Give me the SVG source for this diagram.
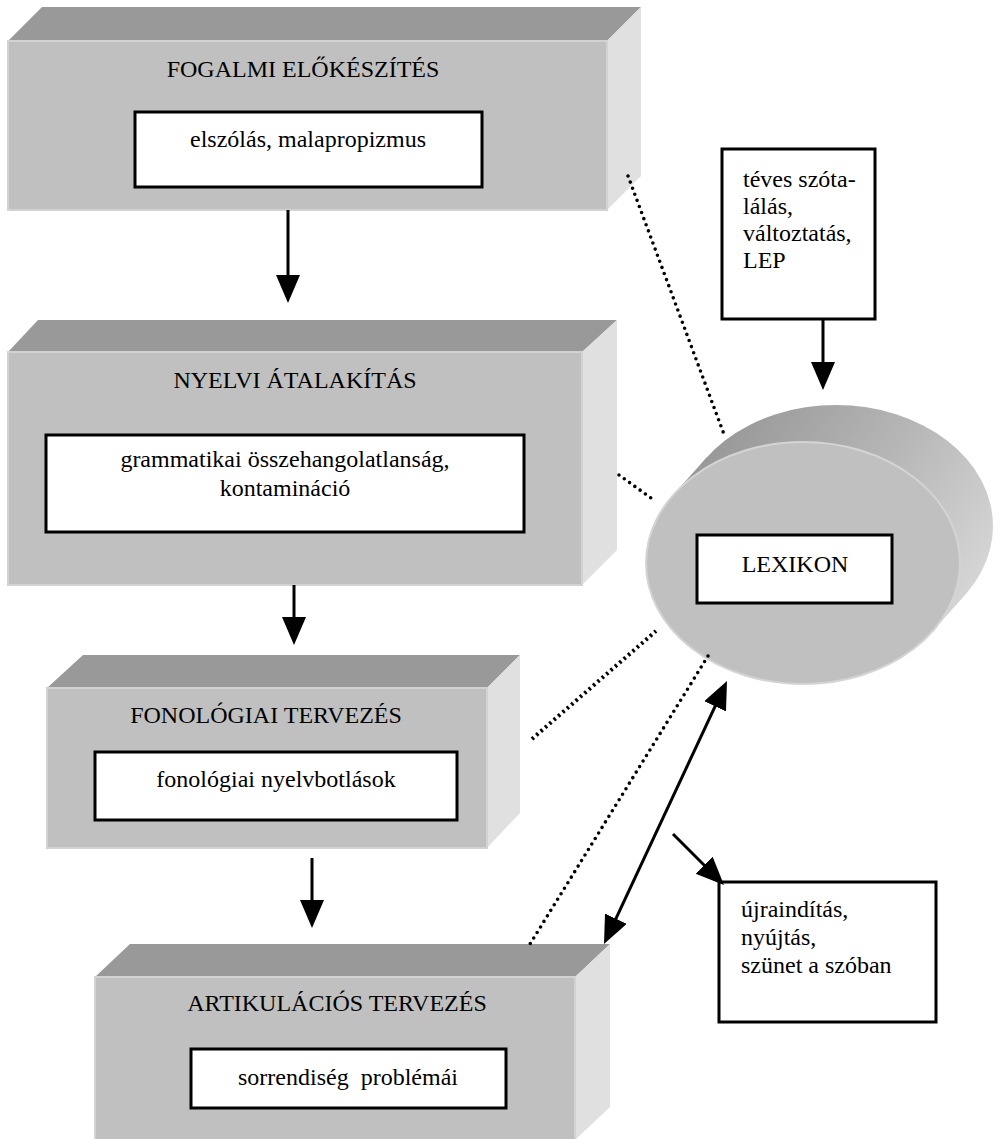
<svg xmlns="http://www.w3.org/2000/svg" width="1000" height="1139" viewBox="0 0 1000 1139">
  <style>
    .top { fill: #999999; }
    .front { fill: #c0c0c0; stroke: #d2d2d2; stroke-width: 2; }
    .side { fill: #e0e0e0; }
    .inner { fill: #ffffff; stroke: #000000; stroke-width: 3; }
    .t { font-family: "Liberation Serif", "Times New Roman", serif; font-size: 24px; fill: #000000; }
    .c { text-anchor: middle; }
    .arrow { stroke: #000000; stroke-width: 3; fill: none; }
    .dot { stroke: #000000; stroke-width: 3.6; fill: none; stroke-linecap: round; stroke-dasharray: 0 6.5; }
    .dot2 { stroke: #000000; stroke-width: 4; fill: none; stroke-dasharray: 2.4 3.4; }
  </style>
  <defs>
    <marker id="ah" markerUnits="userSpaceOnUse" markerWidth="30" markerHeight="26" refX="20" refY="12" orient="auto-start-reverse" viewBox="0 0 30 26">
      <path d="M0,0 L28,12 L0,24 z" fill="#000000"/>
    </marker>
    <linearGradient id="cylSide" gradientUnits="userSpaceOnUse" x1="700" y1="430" x2="990" y2="620">
      <stop offset="0" stop-color="#959595"/>
      <stop offset="0.5" stop-color="#b6b6b6"/>
      <stop offset="1" stop-color="#dcdcdc"/>
    </linearGradient>
  </defs>

  <g id="box-fogalmi">
    <polygon class="top" points="42,7 641,7 607,41 8,41"/>
    <polygon class="side" points="607,41 641,7 641,176 607,210"/>
    <rect class="front" x="8" y="41" width="599" height="169"/>
    <text class="t c" x="303" y="77">FOGALMI ELŐKÉSZÍTÉS</text>
    <rect class="inner" x="135" y="112" width="347" height="75"/>
    <text class="t c" x="308" y="147">elszólás, malapropizmus</text>
  </g>

  <g id="box-nyelvi">
    <polygon class="top" points="38,320 617,320 582,352 8,352"/>
    <polygon class="side" points="582,352 617,320 617,550 582,585"/>
    <rect class="front" x="8" y="352" width="574" height="233"/>
    <text class="t c" x="295" y="388">NYELVI ÁTALAKÍTÁS</text>
    <rect class="inner" x="46" y="435" width="478" height="97"/>
    <text class="t c" x="285" y="467">grammatikai összehangolatlanság,</text>
    <text class="t c" x="285" y="496">kontamináció</text>
  </g>

  <g id="box-fonologiai">
    <polygon class="top" points="83,655 520,655 487,688 47,688"/>
    <polygon class="side" points="487,688 520,655 520,813 487,848"/>
    <rect class="front" x="47" y="688" width="440" height="160"/>
    <text class="t c" x="266" y="723">FONOLÓGIAI TERVEZÉS</text>
    <rect class="inner" x="95" y="752" width="362" height="68"/>
    <text class="t c" x="276" y="787">fonológiai nyelvbotlások</text>
  </g>

  <g id="box-artikulacios">
    <polygon class="top" points="130,944 610,944 575,977 95,977"/>
    <polygon class="side" points="575,977 610,944 610,1107 575,1140"/>
    <rect class="front" x="95" y="977" width="480" height="164"/>
    <text class="t c" x="337" y="1011">ARTIKULÁCIÓS TERVEZÉS</text>
    <rect class="inner" x="191" y="1049" width="315" height="59"/>
    <text class="t c" x="348" y="1085" xml:space="preserve">sorrendiség  problémái</text>
  </g>

  <g id="lexikon">
    <ellipse cx="836" cy="526" rx="157" ry="121" fill="url(#cylSide)"/>
    <polygon points="673.6,494.5 706.6,457.5 965.4,594.5 932.4,631.5" fill="url(#cylSide)"/>
    <ellipse cx="803" cy="563" rx="157" ry="121" fill="#c0c0c0" stroke="#d4d4d4" stroke-width="2"/>
    <rect class="inner" x="697" y="535" width="195" height="68"/>
    <text class="t c" x="795" y="572">LEXIKON</text>
  </g>

  <g id="teves">
    <rect x="722" y="149" width="153" height="170" fill="#ffffff" stroke="#000000" stroke-width="3"/>
    <text class="t" x="743" y="187">téves szóta-</text>
    <text class="t" x="743" y="214">lálás,</text>
    <text class="t" x="743" y="241">változtatás,</text>
    <text class="t" x="743" y="268">LEP</text>
  </g>

  <g id="ujrainditas">
    <rect x="719" y="882" width="217" height="140" fill="#ffffff" stroke="#000000" stroke-width="3"/>
    <text class="t" x="741" y="917">újraindítás,</text>
    <text class="t" x="741" y="945">nyújtás,</text>
    <text class="t" x="741" y="973">szünet a szóban</text>
  </g>

  <g id="connectors">
    <line class="arrow" x1="288" y1="210" x2="288" y2="295" marker-end="url(#ah)"/>
    <line class="arrow" x1="294" y1="585" x2="294" y2="637" marker-end="url(#ah)"/>
    <line class="arrow" x1="312" y1="858" x2="312" y2="920" marker-end="url(#ah)"/>
    <line class="arrow" x1="823" y1="319" x2="823" y2="382" marker-end="url(#ah)"/>
    <line class="arrow" x1="673" y1="834" x2="718.3" y2="879.3" marker-end="url(#ah)"/>
    <line class="arrow" x1="723.6" y1="688.2" x2="607.4" y2="936.8" marker-start="url(#ah)" marker-end="url(#ah)"/>
    <line class="dot" x1="628" y1="176" x2="725" y2="437"/>
    <line class="dot" x1="619" y1="475" x2="651" y2="498"/>
    <line class="dot2" x1="532" y1="739" x2="656" y2="631"/>
    <line class="dot" x1="708" y1="656" x2="530" y2="944"/>
  </g>
</svg>
